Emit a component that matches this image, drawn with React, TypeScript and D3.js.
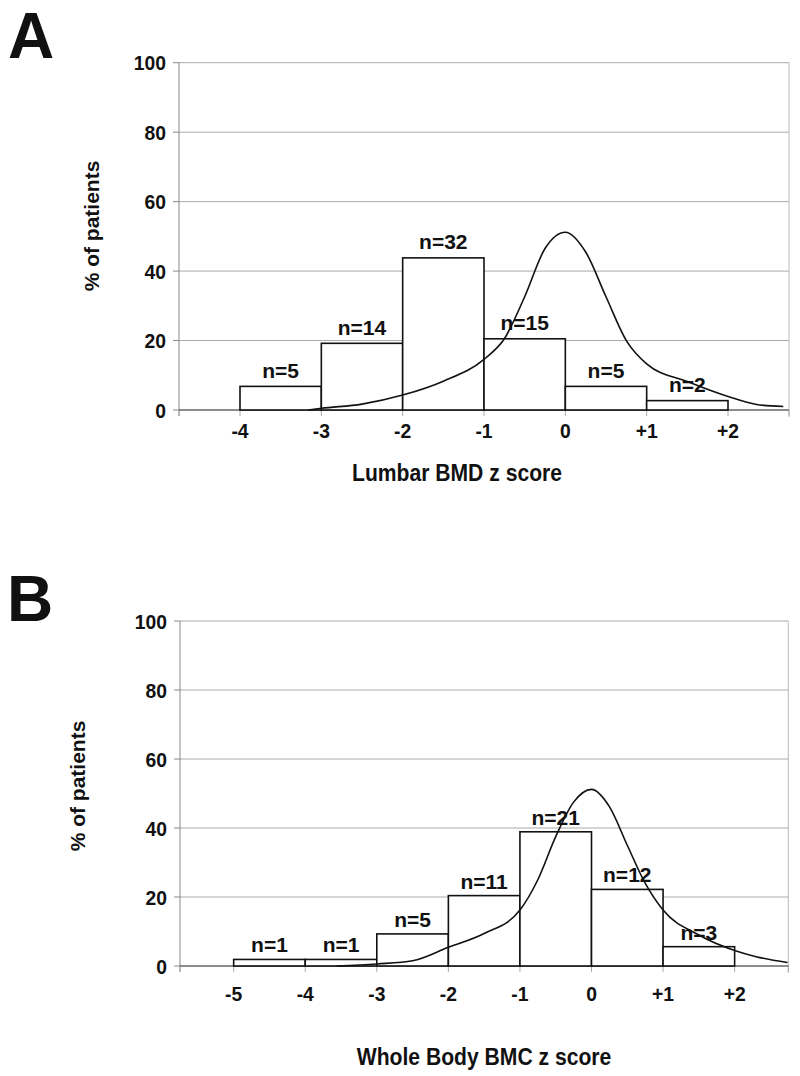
import React from "react";
import * as d3 from "d3";

// ---------- Panel A data ----------
const aEdges = [-4, -3, -2, -1, 0, 1, 2];
const aCounts = [5, 14, 32, 15, 5, 2];
const aPercents = [6.8, 19.2, 43.8, 20.5, 6.8, 2.7];
const aTickValues = [-4, -3, -2, -1, 0, 1, 2];
const aTickLabels = ["-4", "-3", "-2", "-1", "0", "+1", "+2"];
const aCurveX = [-3.16, -3, -2.5, -2, -1.5, -1, -0.75, -0.5, -0.25, 0, 0.25, 0.5, 0.75, 1, 1.5, 2, 2.35, 2.68];
const aCurveY = [0, 0.5, 1.7, 4.3, 8.3, 14.6, 20.5, 32.6, 46.5, 51.2, 45.5, 32.6, 20, 13.3, 8.2, 3.9, 1.6, 1.0];

// ---------- Panel B data ----------
const bEdges = [-5, -4, -3, -2, -1, 0, 1, 2];
const bCounts = [1, 1, 5, 11, 21, 12, 3];
const bPercents = [1.9, 1.9, 9.3, 20.4, 38.9, 22.2, 5.6];
const bTickValues = [-5, -4, -3, -2, -1, 0, 1, 2];
const bTickLabels = ["-5", "-4", "-3", "-2", "-1", "0", "+1", "+2"];
const bCurveX = [-3.56, -3, -2.5, -2, -1.5, -1, -0.75, -0.5, -0.25, 0, 0.25, 0.5, 0.75, 1, 1.5, 2, 2.3, 2.74];
const bCurveY = [0, 0.6, 1.5, 5.4, 9.4, 16.2, 25, 37.5, 47.5, 51.2, 46.2, 35, 24, 16.2, 9, 4.5, 2.7, 1.0];

const yTicks = [0, 20, 40, 60, 80, 100];

const FONT = "'Liberation Sans', Arial, Helvetica, sans-serif";

type PanelProps = {
  letter: string;
  letterX: number;
  letterY: number;
  xDomain: [number, number];
  left: number;
  right: number;
  top: number;
  bottom: number;
  edges: number[];
  counts: number[];
  percents: number[];
  tickValues: number[];
  tickLabels: string[];
  curveX: number[];
  curveY: number[];
  xTitle: string;
  xTitleX: number;
  xTitleY: number;
  yTitleX: number;
  yTitleY: number;
  tickLabelY: number;
  labelGap: number;
};

function Panel(p: PanelProps) {
  const x = d3.scaleLinear().domain(p.xDomain).range([p.left, p.right]);
  const y = d3.scaleLinear().domain([0, 100]).range([p.bottom, p.top]);
  const pts: [number, number][] = p.curveX.map((v, i) => [v, p.curveY[i]]);
  const line = d3
    .line<[number, number]>()
    .x((d) => x(d[0]))
    .y((d) => y(d[1]))
    .curve(d3.curveMonotoneX);

  const xTickPositions = [p.xDomain[0], ...p.tickValues, p.xDomain[1]];

  return (
    <g>
      <text x={p.letterX} y={p.letterY} fontFamily={FONT} fontWeight="bold" fontSize={64} fill="#111">
        {p.letter}
      </text>
      {/* gridlines */}
      {yTicks.map((t) => (
        <line key={"g" + t} x1={p.left} x2={p.right} y1={y(t)} y2={y(t)} stroke="#aaa" strokeWidth={1} />
      ))}
      {/* right border */}
      <line x1={p.right} x2={p.right} y1={y(100)} y2={y(0) + 7} stroke="#bbb" strokeWidth={1} />
      {/* y axis */}
      <line x1={p.left} x2={p.left} y1={y(100)} y2={y(0) + 6} stroke="#888" strokeWidth={1} />
      {yTicks.map((t) => (
        <g key={"yt" + t}>
          <line x1={p.left - 6} x2={p.left} y1={y(t)} y2={y(t)} stroke="#888" strokeWidth={1} />
          <text
            transform={`translate(${p.left - 13},${y(t) + 7.5}) scale(0.92,1)`}
            textAnchor="end"
            fontFamily={FONT}
            fontWeight="bold"
            fontSize={21}
            fill="#111"
          >
            {t}
          </text>
        </g>
      ))}
      {/* x tick marks */}
      {xTickPositions.map((v, i) => (
        <line key={"xt" + i} x1={x(v)} x2={x(v)} y1={y(0)} y2={y(0) + 6} stroke="#aaa" strokeWidth={1} />
      ))}
      {p.tickValues.map((v, i) => (
        <text
          key={"xl" + i}
          transform={`translate(${x(v)},${p.tickLabelY}) scale(0.92,1)`}
          textAnchor="middle"
          fontFamily={FONT}
          fontWeight="bold"
          fontSize={21}
          fill="#111"
        >
          {p.tickLabels[i]}
        </text>
      ))}
      {/* x axis line */}
      <line x1={p.left} x2={p.right} y1={y(0)} y2={y(0)} stroke="#444" strokeWidth={1.2} />
      {/* bars */}
      {p.counts.map((c, i) => (
        <rect
          key={"b" + i}
          x={x(p.edges[i])}
          y={y(p.percents[i])}
          width={x(p.edges[i + 1]) - x(p.edges[i])}
          height={y(0) - y(p.percents[i])}
          fill="#fff"
          stroke="#111"
          strokeWidth={1.6}
        />
      ))}
      {/* curve */}
      <path d={line(pts) || ""} fill="none" stroke="#111" strokeWidth={1.6} />
      {/* bar labels */}
      {p.counts.map((c, i) => (
        <text
          key={"n" + i}
          x={(x(p.edges[i]) + x(p.edges[i + 1])) / 2}
          y={y(p.percents[i]) - p.labelGap}
          textAnchor="middle"
          fontFamily={FONT}
          fontWeight="bold"
          fontSize={21}
          fill="#111"
        >
          {"n=" + c}
        </text>
      ))}
      {/* axis titles */}
      <text
        transform={`translate(${p.xTitleX},${p.xTitleY}) scale(0.88,1)`}
        textAnchor="middle"
        fontFamily={FONT}
        fontWeight="bold"
        fontSize={24}
        fill="#111"
      >
        {p.xTitle}
      </text>
      <text
        transform={`translate(${p.yTitleX},${p.yTitleY}) rotate(-90)`}
        textAnchor="middle"
        fontFamily={FONT}
        fontWeight="bold"
        fontSize={21}
        fill="#111"
      >
        % of patients
      </text>
    </g>
  );
}

export default function App() {
  return (
    <svg
      width={800}
      height={1076}
      viewBox="0 0 800 1076"
      style={{ position: "absolute", left: 0, top: 0, background: "#fff" }}
    >
      <rect x={0} y={0} width={800} height={1076} fill="#fff" />
      <Panel
        letter="A"
        letterX={8}
        letterY={58}
        xDomain={[-4.75, 2.75]}
        left={179}
        right={789}
        top={62.7}
        bottom={410}
        edges={aEdges}
        counts={aCounts}
        percents={aPercents}
        tickValues={aTickValues}
        tickLabels={aTickLabels}
        curveX={aCurveX}
        curveY={aCurveY}
        xTitle="Lumbar BMD z score"
        xTitleX={457}
        xTitleY={481}
        yTitleX={99}
        yTitleY={226}
        tickLabelY={438}
        labelGap={8.5}
      />
      <Panel
        letter="B"
        letterX={7}
        letterY={621}
        xDomain={[-5.75, 2.75]}
        left={180}
        right={788.3}
        top={621}
        bottom={966}
        edges={bEdges}
        counts={bCounts}
        percents={bPercents}
        tickValues={bTickValues}
        tickLabels={bTickLabels}
        curveX={bCurveX}
        curveY={bCurveY}
        xTitle="Whole Body BMC z score"
        xTitleX={484}
        xTitleY={1065}
        yTitleX={85}
        yTitleY={786}
        tickLabelY={1001}
        labelGap={7}
      />
    </svg>
  );
}
